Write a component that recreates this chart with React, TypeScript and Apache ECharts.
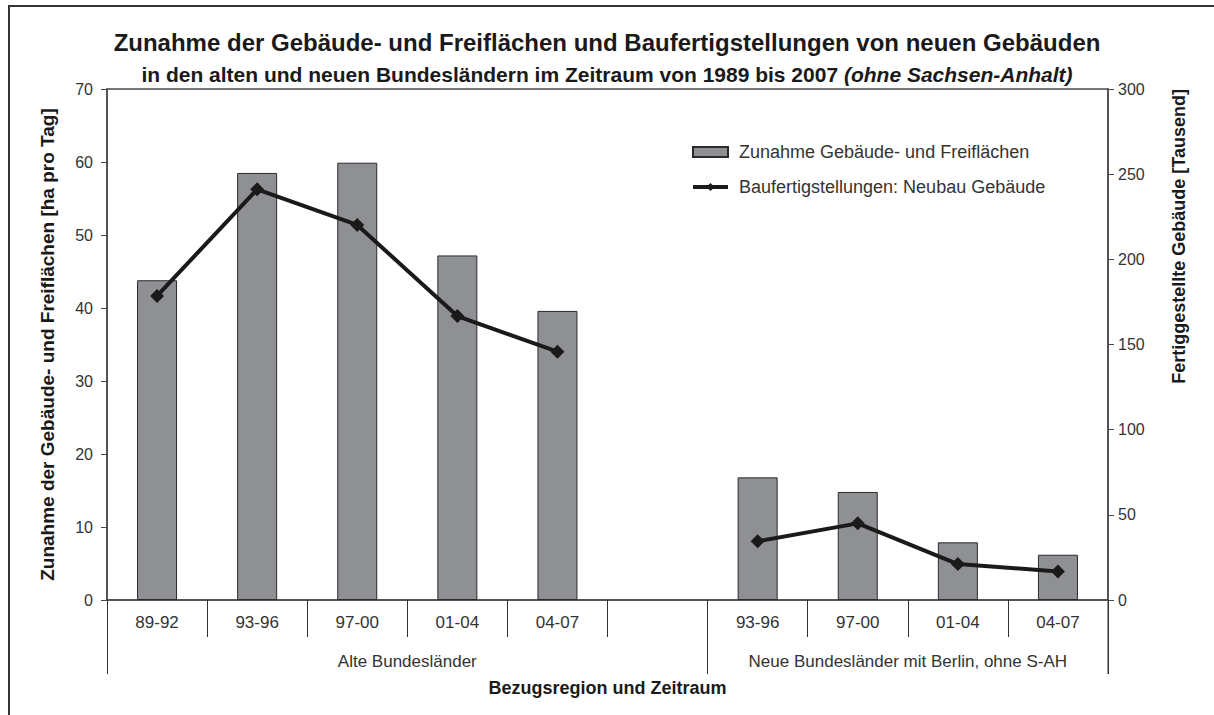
import React, { useEffect, useRef } from 'react';
import * as echarts from 'echarts';

const categories = ['89-92', '93-96', '97-00', '01-04', '04-07', '', '93-96', '97-00', '01-04', '04-07'];
const areaIncrease = [43.8, 58.5, 59.9, 47.2, 39.6, null, 16.8, 14.8, 7.9, 6.2];
const completions = [178.5, 241.1, 220.2, 166.7, 145.8, null, 34.5, 45.0, 21.1, 16.8];
const groupLabels = ['Alte Bundesländer', 'Neue Bundesländer mit Berlin, ohne S-AH'];
const groupBounds = [0, 6, 10];
const groupCenters = [3, 8];

const barName = 'Zunahme Gebäude- und Freiflächen';
const lineName = 'Baufertigstellungen: Neubau Gebäude';

const FONT = '"Liberation Sans", Arial, sans-serif';
const AXIS = '#4a4a4a';

export default function App() {
  const ref = useRef<HTMLDivElement>(null);
  useEffect(() => {
    const chart = echarts.init(ref.current!, null, { renderer: 'svg' });
    chart.setOption({
      animation: false,
      backgroundColor: '#ffffff',
      textStyle: { fontFamily: FONT },
      title: [
        {
          text: 'Zunahme der Gebäude- und Freiflächen und Baufertigstellungen von neuen Gebäuden',
          left: 'center',
          top: 25,
          textStyle: { fontSize: 24, fontWeight: 'bold', color: '#1a1a1a', fontFamily: FONT },
        },
        {
          text: '{b|in den alten und neuen Bundesländern im Zeitraum von 1989 bis 2007 }{i|(ohne Sachsen-Anhalt)}',
          left: 'center',
          top: 59,
          textStyle: {
            fontFamily: FONT,
            rich: {
              b: { fontSize: 21, fontWeight: 'bold', color: '#1a1a1a', fontFamily: FONT },
              i: { fontSize: 21, fontWeight: 'bold', fontStyle: 'italic', color: '#1a1a1a', fontFamily: FONT },
            },
          },
        },
      ],
      legend: {
        orient: 'vertical',
        left: 686,
        top: 138,
        itemWidth: 35,
        itemHeight: 10,
        itemGap: 17,
        lineStyle: { width: 4, color: '#1a1a1a' },
        textStyle: { fontSize: 18, color: '#333', fontFamily: FONT, padding: [0, 0, 0, 6] },
        data: [{ name: barName, icon: 'rect' }, { name: lineName }],
      },
      grid: {
        left: 107,
        right: 106,
        top: 89,
        bottom: 115,
        show: true,
        borderColor: AXIS,
        borderWidth: 1.5,
        containLabel: false,
      },
      xAxis: [
        {
          type: 'category',
          data: categories,
          position: 'bottom',
          boundaryGap: true,
          axisLine: { lineStyle: { color: AXIS, width: 1.5 } },
          axisTick: { show: true, interval: 0, length: 37, lineStyle: { color: '#333', width: 1 } },
          axisLabel: { interval: 0, margin: 14, fontSize: 17, color: '#333', fontFamily: FONT },
          splitLine: { show: false },
        },
        {
          type: 'value',
          min: 0,
          max: 10,
          position: 'bottom',
          offset: 0,
          axisLine: { show: false },
          axisTick: { show: true, customValues: groupBounds, length: 74, lineStyle: { color: '#333', width: 1 } },
          axisLabel: {
            show: true,
            customValues: groupCenters,
            margin: 53,
            fontSize: 17,
            color: '#333',
            fontFamily: FONT,
            formatter: (v: number) => groupLabels[groupCenters.indexOf(v)] ?? '',
          },
          splitLine: { show: false },
          name: 'Bezugsregion und Zeitraum',
          nameLocation: 'middle',
          nameGap: 79,
          nameTextStyle: { fontSize: 18, fontWeight: 'bold', color: '#1a1a1a', fontFamily: FONT },
        },
      ],
      yAxis: [
        {
          type: 'value',
          min: 0,
          max: 70,
          interval: 10,
          position: 'left',
          axisLine: { show: true, lineStyle: { color: AXIS, width: 1.5 } },
          axisTick: { show: true, length: 6, lineStyle: { color: AXIS } },
          axisLabel: { margin: 14, fontSize: 16, color: '#333', fontFamily: FONT },
          splitLine: { show: false },
          name: 'Zunahme der Gebäude- und Freiflächen [ha pro Tag]',
          nameLocation: 'middle',
          nameGap: 50,
          nameTextStyle: { fontSize: 19, fontWeight: 'bold', color: '#1a1a1a', fontFamily: FONT },
        },
        {
          type: 'value',
          min: 0,
          max: 300,
          interval: 50,
          position: 'right',
          axisLine: { show: true, lineStyle: { color: AXIS, width: 1.5 } },
          axisTick: { show: true, length: 6, lineStyle: { color: AXIS } },
          axisLabel: { margin: 10, fontSize: 16, color: '#333', fontFamily: FONT },
          splitLine: { show: false },
        },
      ],
      graphic: [
        { type: 'line', shape: { x1: 8, y1: 6, x2: 1214, y2: 6 }, style: { stroke: '#333', lineWidth: 2 } },
        { type: 'line', shape: { x1: 9, y1: 6, x2: 9, y2: 715 }, style: { stroke: '#333', lineWidth: 2 } },
        {
          type: 'line',
          shape: { x1: 1108, y1: 600, x2: 1108, y2: 674 },
          style: { stroke: '#333', lineWidth: 1 },
        },
        {
          type: 'text',
          x: 1179,
          y: 89,
          rotation: Math.PI / 2,
          style: {
            text: 'Fertiggestellte Gebäude [Tausend]',
            fontSize: 18,
            fontWeight: 'bold',
            fill: '#1a1a1a',
            fontFamily: FONT,
            align: 'right',
            verticalAlign: 'middle',
          },
        },
      ],
      series: [
        {
          name: barName,
          type: 'bar',
          xAxisIndex: 0,
          yAxisIndex: 0,
          data: areaIncrease,
          barWidth: 40,
          itemStyle: { color: '#8f9094', borderColor: '#2a2a2a', borderWidth: 1 },
        },
        {
          name: lineName,
          type: 'line',
          xAxisIndex: 0,
          yAxisIndex: 1,
          data: completions,
          connectNulls: false,
          symbol: 'diamond',
          symbolSize: 14,
          lineStyle: { color: '#1a1a1a', width: 4 },
          itemStyle: { color: '#1a1a1a' },
        },
      ],
    });
    return () => chart.dispose();
  }, []);
  return (
    <div
      ref={ref}
      style={{ position: 'fixed', left: 0, top: 0, width: 1214, height: 715, background: '#fff' }}
    />
  );
}
